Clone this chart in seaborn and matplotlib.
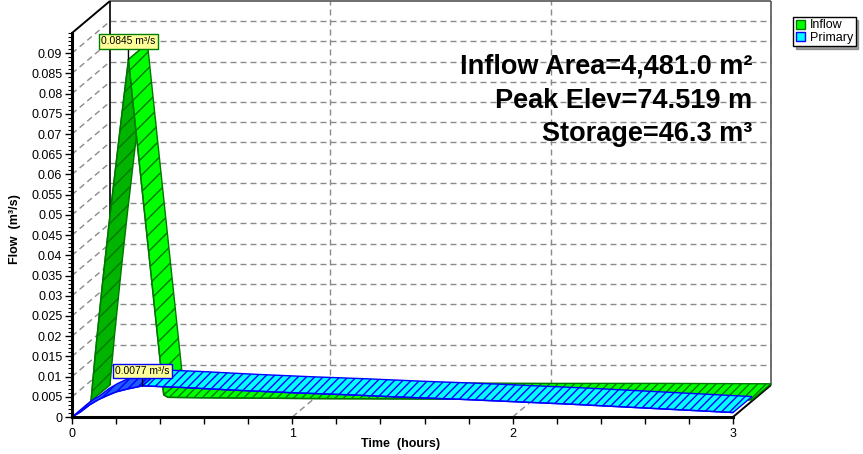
import numpy as np
import pandas as pd
import matplotlib
matplotlib.use("Agg")
import matplotlib.pyplot as plt
import seaborn as sns
from matplotlib.patches import Patch
from matplotlib.ticker import MultipleLocator, FixedLocator, FixedFormatter

# ---------------- data ----------------
inflow_time = [0.00, 0.02, 0.05, 0.08, 0.11, 0.14, 0.17, 0.20, 0.25, 0.30, 0.33, 0.35,
               0.50, 0.75, 1.00, 1.50, 2.00, 2.50, 3.00]
inflow_flow = [0.0, 0.012, 0.028, 0.043, 0.057, 0.071, 0.0845, 0.0688, 0.0429, 0.0170, 0.0015, 0.0009,
               0.0008, 0.0007, 0.0006, 0.0005, 0.0004, 0.0004, 0.0003]
primary_time = [0.00, 0.04, 0.08, 0.12, 0.16, 0.20, 0.25, 0.32, 0.50, 0.75, 1.00, 1.25,
                1.50, 1.75, 2.00, 2.25, 2.50, 2.75, 3.00]
primary_flow = [0.0, 0.0013, 0.0030, 0.0043, 0.0053, 0.0062, 0.0069, 0.0077, 0.0073, 0.0066, 0.0060, 0.0055,
                0.0049, 0.0044, 0.0038, 0.0032, 0.0025, 0.0018, 0.0011]
series_names = ["Inflow", "Primary"]
x_major_ticks = [0, 1, 2, 3]
y_major_step = 0.005
info_lines = ["Inflow Area=4,481.0 m²", "Peak Elev=74.519 m", "Storage=46.3 m³"]
x_title = "Time  (hours)"
y_title = "Flow  (m³/s)"

# ---------------- style ----------------
W, H, DPI = 863, 454, 100
sns.set_theme(style="white")
plt.rcParams['font.family'] = ['Liberation Sans', 'DejaVu Sans']
plt.rcParams['hatch.linewidth'] = 1.0
for k in ['text.color', 'axes.labelcolor', 'xtick.color', 'ytick.color']:
    plt.rcParams[k] = 'black'

GREEN_FACE, GREEN_DARK, GREEN_EDGE = "#00ff00", "#00b400", "#007800"
CYAN_FACE, BLUE_DARK, BLUE_EDGE = "#00ffff", "#1f5cff", "#0000ff"
GRID = "#8a8a8a"
DASH = (0, (4.3, 2.9))

fig = plt.figure(figsize=(W / DPI, H / DPI), dpi=DPI)
ax = fig.add_axes([72 / W, 37 / H, 661 / W, 384 / H])
XMAX, YMAX = 3.0, 0.095
ax.set_xlim(0, XMAX)
ax.set_ylim(0, YMAX)
ax.patch.set_alpha(0)

# depth offset (pixels) converted to data units through the axes transform
DEPTH_PX = (38, 32)
ox, oy = ax.transData.transform((0, 0))
DX, DY = ax.transData.inverted().transform((ox + DEPTH_PX[0], oy + DEPTH_PX[1]))
PX_PER_X = ax.transData.transform((1, 0))[0] - ox
PX_PER_Y = ax.transData.transform((0, 1))[1] - oy

def off(f):
    return DX * f, DY * f

def line(xs, ys, **kw):
    ax.plot(xs, ys, clip_on=False, solid_capstyle='butt', **kw)

# ---------------- walls / gridlines ----------------
yticks_major = [round(i * y_major_step, 3) for i in range(0, int(round(0.09 / y_major_step)) + 1)]
for v in yticks_major[1:]:
    line([DX, XMAX + DX], [v + DY, v + DY], color=GRID, lw=1, ls=DASH, zorder=1)
    line([0, DX], [v, v + DY], color=GRID, lw=1, ls=DASH, zorder=1)
for t in x_major_ticks[1:-1]:
    line([t + DX, t + DX], [DY, YMAX + DY], color=GRID, lw=1, ls=DASH, zorder=1)
    line([t, t + DX], [0, DY], color=GRID, lw=1, ls=DASH, zorder=1)
line([DX, XMAX + DX], [YMAX + DY, YMAX + DY], color="#555555", lw=1.2, zorder=1.5)
line([XMAX + DX, XMAX + DX], [DY, YMAX + DY], color="#555555", lw=1.2, zorder=1.5)
line([DX, DX], [DY, YMAX + DY], color="#222222", lw=1.4, zorder=1.5)
line([0, DX], [YMAX, YMAX + DY], color="black", lw=1.4, zorder=1.5)
line([XMAX, XMAX + DX], [0, DY], color="black", lw=1.4, zorder=1.5)

# ---------------- ribbons ----------------
def ribbon(t, v, d0, d1, face, face_rise, edge, z):
    t = np.asarray(t, float)
    v = np.asarray(v, float)
    dv = np.diff(v)
    slope_px = np.abs(dv * PX_PER_Y) / (np.diff(t) * PX_PER_X)
    kind = [(bool(dv[i] > 0), bool(slope_px[i] > 1.0)) for i in range(len(dv))]
    runs, s = [], 0
    for i in range(1, len(kind)):
        if kind[i] != kind[s]:
            runs.append((s, i, kind[s]))
            s = i
    runs.append((s, len(kind), kind[s]))
    for k, (a, b, (up, steep)) in enumerate(runs):
        tt, vv = t[a:b + 1], v[a:b + 1]
        xs = np.concatenate([tt + d0[0], (tt + d1[0])[::-1]])
        ys = np.concatenate([vv + d0[1], (vv + d1[1])[::-1]])
        ax.fill(xs, ys, facecolor=face_rise if up else face, edgecolor=edge,
                hatch='//' if steep else '////', lw=1.0, clip_on=False, zorder=z + k * 0.01)

ribbon(inflow_time, inflow_flow, off(0.5), off(1.0), GREEN_FACE, GREEN_DARK, GREEN_EDGE, 3)
ribbon(primary_time, primary_flow, off(0.0), off(0.5), CYAN_FACE, BLUE_DARK, BLUE_EDGE, 4)

hx, hy = off(0.5)
df_in = pd.DataFrame({"t": np.asarray(inflow_time) + hx, "q": np.asarray(inflow_flow) + hy})
df_pr = pd.DataFrame({"t": primary_time, "q": primary_flow})
sns.lineplot(data=df_in, x="t", y="q", ax=ax, color=GREEN_EDGE, lw=1, sort=False, zorder=3.9, clip_on=False)
sns.lineplot(data=df_pr, x="t", y="q", ax=ax, color=BLUE_EDGE, lw=1, sort=False, zorder=4.9, clip_on=False)
ax.set_xlim(0, XMAX)
ax.set_ylim(0, YMAX)

# ---------------- peak labels ----------------
ip = int(np.argmax(inflow_flow))
pp = int(np.argmax(primary_flow))
ax.annotate(f"{inflow_flow[ip]:.4f} m³/s", xy=(inflow_time[ip] + hx, inflow_flow[ip] + hy),
            xytext=(0, 13), textcoords='offset pixels', ha='center', va='bottom', fontsize=7.4,
            bbox=dict(boxstyle='square,pad=0.22', fc='#ffff99', ec='#008000', lw=1),
            arrowprops=dict(arrowstyle='-', color='black', lw=1, shrinkA=0, shrinkB=0),
            annotation_clip=False, zorder=10)
ax.annotate(f"{primary_flow[pp]:.4f} m³/s", xy=(primary_time[pp], primary_flow[pp]),
            xytext=(0, 10), textcoords='offset pixels', ha='center', va='bottom', fontsize=7.4,
            bbox=dict(boxstyle='square,pad=0.22', fc='#ffff99', ec='#0000ff', lw=1),
            arrowprops=dict(arrowstyle='-', color='black', lw=1, shrinkA=0, shrinkB=0),
            annotation_clip=False, zorder=10)

# ---------------- axes ----------------
for s in ["top", "right"]:
    ax.spines[s].set_visible(False)
for s in ["left", "bottom"]:
    ax.spines[s].set_color("black")
    ax.spines[s].set_linewidth(2.2)
    ax.spines[s].set_zorder(8)
ax.yaxis.set_major_locator(FixedLocator(yticks_major))
ax.yaxis.set_major_formatter(FixedFormatter([f"{v:g}" for v in yticks_major]))
ax.yaxis.set_minor_locator(MultipleLocator(0.001))
ax.xaxis.set_major_locator(FixedLocator(x_major_ticks))
ax.xaxis.set_minor_locator(MultipleLocator(0.2))
ax.tick_params(axis='y', which='major', direction='out', length=5, width=1, color='black',
               labelcolor='black', labelsize=9, pad=2, left=True)
ax.tick_params(axis='y', which='minor', direction='out', length=3, width=0.8, color='black', left=True)
ax.tick_params(axis='x', which='both', direction='out', length=5, width=1, color='black',
               labelcolor='black', labelsize=9, pad=3, bottom=True)
ax.set_xlabel("")
ax.set_ylabel("")
ax.grid(False)

fig.text(15 / W, 1 - 229 / H, y_title, rotation=90, ha='center', va='center',
         fontsize=9, fontweight='bold', color='black')
fig.text(401 / W, 1 - 444 / H, x_title, ha='center', va='center', fontsize=9,
         fontweight='bold', color='black')

for i, txt in enumerate(info_lines):
    fig.text(752 / W, 1 - (74 + 33.5 * i) / H, txt, ha='right', va='baseline',
             fontsize=19.5, fontweight='bold', color='black', zorder=9)

# ---------------- legend ----------------
handles = [Patch(facecolor=GREEN_FACE, edgecolor=GREEN_EDGE),
           Patch(facecolor=CYAN_FACE, edgecolor=BLUE_EDGE)]
leg = fig.legend(handles=handles, labels=series_names, loc='upper left',
                 bbox_to_anchor=(793 / W, 1 - 17 / H), frameon=True, fancybox=False, shadow=True,
                 fontsize=9, handlelength=0.75, handleheight=0.75, handletextpad=0.4,
                 borderpad=0.2, labelspacing=0.02, borderaxespad=0)
leg.get_frame().set_edgecolor('black')
leg.get_frame().set_linewidth(1)
for tx in leg.get_texts():
    tx.set_color('black')

fig.savefig("out.png", dpi=DPI)
